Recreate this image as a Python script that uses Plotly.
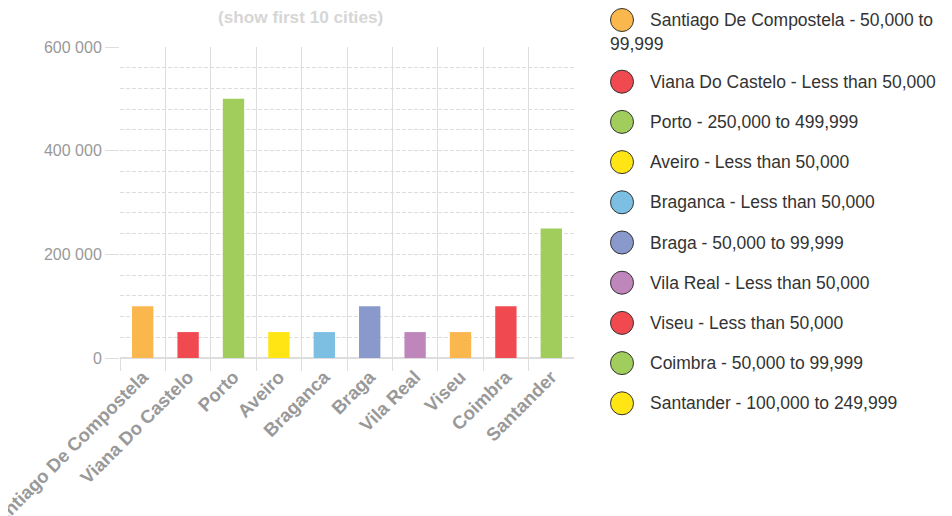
import plotly.graph_objects as go

# ---------------- data ----------------
cities = ["Santiago De Compostela", "Viana Do Castelo", "Porto", "Aveiro", "Braganca",
          "Braga", "Vila Real", "Viseu", "Coimbra", "Santander"]
population_value = [100000, 50000, 500000, 50000, 50000, 100000, 50000, 50000, 100000, 250000]
population_range = ["50,000 to 99,999", "Less than 50,000", "250,000 to 499,999",
                    "Less than 50,000", "Less than 50,000", "50,000 to 99,999",
                    "Less than 50,000", "Less than 50,000", "50,000 to 99,999",
                    "100,000 to 249,999"]
bar_colors = ["#F9B74E", "#F04A50", "#A0CD5B", "#FFE513", "#7CBFE3",
              "#8A99CB", "#BE86BA", "#F9B74E", "#F04A50", "#A0CD5B"]
legend_colors = ["#F9B74E", "#F04A50", "#A0CD5B", "#FFE513", "#7CBFE3",
                 "#8A99CB", "#BE86BA", "#F04A50", "#A0CD5B", "#FFE513"]
y_ticks = [0, 200000, 400000, 600000]
title_text = "(show first 10 cities)"

# page body has an 8px margin; work in screen coordinates and subtract it
OFF = 8
W, H = 952 - OFF, 516 - OFF
FONT = "Liberation Sans, Arial, Helvetica, sans-serif"


def sx(px):
    return px - OFF


def sy(py):
    return py - OFF


fig = go.Figure()

fig.add_trace(go.Bar(
    x=cities, y=population_value, marker=dict(color=bar_colors, line=dict(width=0)),
    width=0.47, showlegend=False, xaxis="x", yaxis="y",
))

# ---------------- custom legend (pixel coordinate overlay axes) ----------------
labels = [f"{c} - {r}" for c, r in zip(cities, population_range)]
annotations = []
row_ys = []
y = 20
LF = dict(size=17.5, color="#333333", family=FONT)
for lab in labels:
    row_ys.append(sy(y))
    if len(lab) > 36:
        cut = lab.rfind(" ", 0, 36)
        first, second = lab[:cut], lab[cut + 1:]
        annotations.append(dict(x=sx(648), y=sy(y), xref="x2", yref="y2", text=first, showarrow=False,
                                xanchor="left", yanchor="middle", font=LF))
        annotations.append(dict(x=sx(608), y=sy(y + 23.5), xref="x2", yref="y2", text=second,
                                showarrow=False, xanchor="left", yanchor="middle", font=LF))
        y += 61.7
    else:
        annotations.append(dict(x=sx(648), y=sy(y), xref="x2", yref="y2", text=lab, showarrow=False,
                                xanchor="left", yanchor="middle", font=LF))
        y += 40.2

fig.add_trace(go.Scatter(
    x=[sx(622)] * len(cities), y=row_ys, mode="markers",
    marker=dict(size=23, color=legend_colors, line=dict(color="#333333", width=1)),
    showlegend=False, hoverinfo="skip", xaxis="x2", yaxis="y2",
))

annotations.append(dict(x=sx(300) / W, y=1 - sy(17) / H, xref="paper", yref="paper",
                        text=f"<b>{title_text}</b>", showarrow=False, xanchor="center",
                        yanchor="middle", font=dict(size=17.2, color="#D6D6D6", family=FONT)))

grid_c = "#DDDDDD"
fig.update_layout(
    width=W, height=H,
    margin=dict(l=0, r=0, t=0, b=0),
    paper_bgcolor="white", plot_bgcolor="rgba(0,0,0,0)",
    separators=". ",
    font=dict(family=FONT),
    annotations=annotations,
    xaxis=dict(
        domain=[sx(120) / W, sx(574) / W], anchor="y",
        type="category", tickson="boundaries",
        showgrid=True, gridcolor=grid_c, gridwidth=1,
        ticks="outside", ticklen=12, tickcolor=grid_c,
        tickangle=-45, tickfont=dict(size=18.5, color="#999999", family=FONT, weight="bold"),
        showline=True, linecolor=grid_c, mirror=False,
        zeroline=False, automargin=False,
    ),
    yaxis=dict(
        domain=[1 - sy(358) / H, 1 - sy(47) / H], anchor="x",
        range=[0, 600000], tickvals=y_ticks, tickformat=",d",
        showgrid=True, gridcolor=grid_c, griddash="4px,2px", gridwidth=1,
        minor=dict(dtick=40000, showgrid=True, gridcolor=grid_c, griddash="4px,2px", gridwidth=1),
        ticks="outside", ticklen=14, tickcolor=grid_c,
        tickfont=dict(size=16, color="#999999", family=FONT),
        showline=False, zeroline=True, zerolinecolor=grid_c, zerolinewidth=2,
        automargin=False,
    ),
    xaxis2=dict(domain=[0, 1], range=[0, W], anchor="y2", visible=False, fixedrange=True),
    yaxis2=dict(domain=[0, 1], range=[H, 0], anchor="x2", visible=False, fixedrange=True),
)

fig.write_html("out.html")
